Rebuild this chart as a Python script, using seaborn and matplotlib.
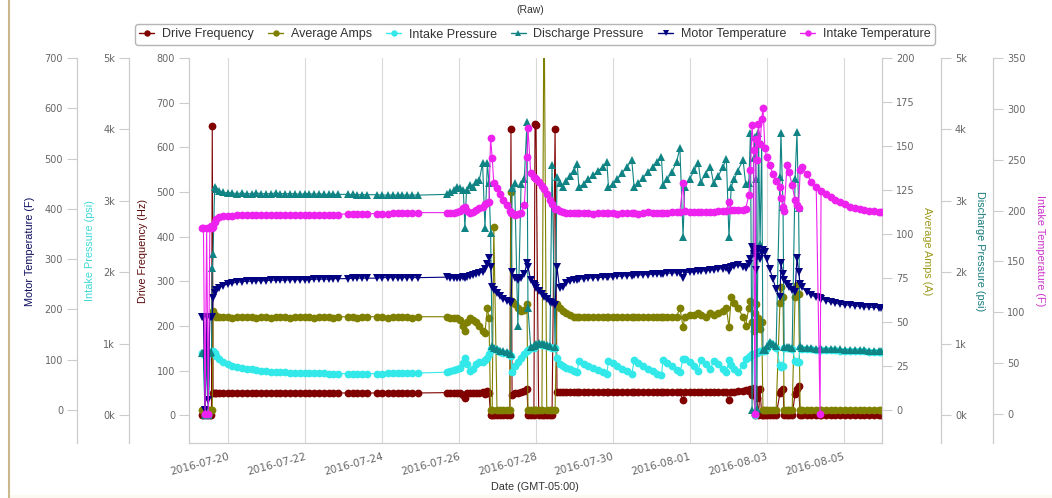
import matplotlib
matplotlib.use("Agg")
import matplotlib.pyplot as plt
import matplotlib.ticker as mticker
from matplotlib.lines import Line2D
from matplotlib.patches import Rectangle
import pandas as pd
import seaborn as sns

sns.set_theme(style="white")
plt.rcParams["font.family"] = ["DejaVu Sans"]

# Sample times, hours after 2016-07-19 00:00 (GMT-05:00)
hours = [
    8, 9, 10, 11, 12, 13, 14,
    14.5, 15, 16, 17, 19, 21, 24, 27, 30, 33, 36, 39, 42, 45, 48, 51, 54, 57, 60, 63, 66, 69, 72, 75, 78, 81,
    84, 87, 90, 93, 99, 102, 105, 108, 111, 117, 120, 124, 127, 130, 133, 136, 139, 143, 161,
    163, 165, 167, 169, 171, 172, 173, 175, 177, 179, 181, 183, 184.5, 186, 187,
    188, 189, 190, 192, 194, 196, 198, 200, 200.7,
    201.4, 203, 205, 207, 209, 210.7,
    211.3, 213, 215, 215.7, 216.3, 218, 220, 221.3, 223, 225, 226.3, 228.2,
    229.4, 231, 233, 235, 237.5, 240, 242, 243, 246, 249, 252, 255, 258, 260.5, 261.5, 264, 267, 270, 273, 276,
    277.5, 280, 283, 286, 289, 292, 294.5, 295.5, 298, 301, 304, 306, 308, 309, 312, 315, 317.5, 319, 322, 325,
    327, 330, 333, 335, 336.6, 338, 340, 342, 345.4, 347,
    349, 350, 351, 352, 352.8, 353.5, 354, 355, 356, 357, 357.8,
    359, 360, 362, 364, 366, 368.4, 369, 370.3, 371, 372.8, 374, 376, 377.8, 379, 380, 381, 382, 385, 388, 391,
    393.4, 394, 397, 400, 403, 406, 409, 412, 415, 418, 421, 424, 427, 430, 431.5,
]

drive_freq = [
    0, 0, 0, 0, 0, 0, 0,
    648, 51, 50, 50, 50, 51, 50, 50, 50, 50, 50, 50, 50, 51, 50, 50, 50, 50, 50, 50, 50, 50, 50, 50, 50, 50,
    50, 50, 50, 50, 50, 50, 50, 50, 50, 50, 50, 50, 50, 50, 50, 50, 50, 50, 51,
    51, 51, 51, 51, 45, 38, 50, 51, 51, 51, 50, 52, 48, 55, 50,
    0, 0, 0, 0, 0, 0, 0, 0, 641,
    45, 49, 50, 52, 55, 60,
    0, 0, 0, 652, 650, 0, 0, 0, 0, 0, 0, 641,
    52, 52, 52, 52, 52, 52, 52, 52, 52, 52, 52, 52, 52, 52, 52, 52, 52, 52, 52, 52,
    52, 52, 52, 52, 52, 52, 52, 52, 52, 52, 52, 52, 34, 52, 52, 52, 52, 52, 52, 52,
    52, 52, 52, 52, 34, 52, 53, 54, 55, 56,
    55, 60, 45, 62, 0, 50, 38, 0, 58, 0, 0,
    0, 0, 0, 0, 0, 50, 55, 60, 0, 0, 0, 0, 48, 58, 66, 0, 0, 0, 0, 0,
    0, 0, 0, 0, 0, 0, 0, 0, 0, 0, 0, 0, 0, 0, 0,
]

avg_amps = [
    0, 0, 0, 0, 0, 0, 0,
    0, 56, 54, 53, 53, 53, 53, 52, 53, 53, 53, 53, 52, 53, 53, 52, 53, 53, 53, 52, 53, 53, 53, 53, 52, 53,
    53, 53, 52, 53, 53, 53, 52, 53, 53, 53, 53, 52, 53, 53, 53, 53, 52, 53, 53,
    52, 52, 52, 51, 48, 45, 50, 52, 51, 50, 48, 45, 44, 58, 52,
    0, 0, 104, 0, 0, 0, 0, 0, 124,
    62, 60, 58, 56, 57, 60,
    0, 0, 0, 0, 0, 0, 0, 240, 0, 0, 0, 0,
    60, 58, 56, 55, 54, 53, 53, 53, 53, 53, 53, 53, 53, 53, 53, 53, 53, 53, 53, 53,
    53, 53, 53, 53, 53, 53, 53, 53, 53, 53, 53, 58, 47, 53, 54, 54, 55, 54, 53, 55,
    54, 55, 56, 58, 47, 64, 61, 58, 53, 48,
    58, 62, 50, 45, 55, 60, 48, 52, 46, 50, 0,
    0, 0, 0, 0, 0, 61, 70, 64, 0, 0, 0, 0, 64, 71, 66, 0, 0, 0, 0, 0,
    0, 0, 0, 0, 0, 0, 0, 0, 0, 0, 0, 0, 0, 0, 0,
]

intake_press = [
    870, 860, 0, 870, 0, 870, 880,
    880, 900, 870, 830, 780, 745, 710, 690, 672, 660, 648, 638, 628, 620, 614, 608, 603, 599, 596, 593, 590, 588, 586, 585, 584, 583,
    582, 581, 580, 580, 580, 580, 580, 580, 580, 581, 581, 582, 582, 583, 584, 585, 586, 588, 600,
    620, 630, 640, 660, 730, 800, 720, 610, 640, 720, 745, 740, 770, 800, 850,
    930, 940, 925, 905, 885, 875, 865, 845, 830,
    600, 680, 740, 800, 860, 900,
    910, 935, 945, 965, 975, 990, 985, 975, 960, 950, 940, 935,
    800, 720, 690, 660, 640, 620, 600, 760, 720, 690, 660, 630, 600, 580, 760, 730, 690, 650, 610, 570,
    770, 730, 690, 650, 610, 580, 560, 770, 730, 680, 630, 600, 780, 790, 740, 680, 620, 770, 710, 640,
    760, 720, 650, 600, 770, 700, 640, 600, 700, 790,
    810, 830, 850, 860, 0, 870, 870, 880, 890, 890, 890,
    895, 945, 1005, 985, 945, 700, 672, 690, 935, 940, 935, 930, 760, 742, 745, 945, 930, 925, 920, 915,
    915, 913, 910, 907, 905, 903, 900, 897, 895, 893, 890, 888, 885, 883, 882,
]

discharge_press = [
    875, 865, 0, 875, 0, 875, 885,
    2060, 2250, 3200, 3170, 3140, 3120, 3110, 3110, 3100, 3110, 3100, 3100, 3110, 3100, 3100, 3100, 3110, 3100, 3100, 3100, 3100, 3090, 3100, 3100, 3090, 3100,
    3090, 3090, 3090, 3090, 3090, 3090, 3085, 3085, 3085, 3085, 3080, 3080, 3080, 3080, 3080, 3080, 3080, 3080, 3090,
    3120, 3150, 3200, 3180, 3150, 2620, 3150, 3220, 3200, 3260, 3290, 3530, 2620, 3530, 3250,
    2550, 960, 940, 920, 900, 890, 880, 860, 850,
    3180, 3250, 1250, 3230, 3300, 4100,
    1500, 950, 960, 980, 990, 1005, 1000, 990, 975, 965, 3500, 950,
    3330, 3250, 3200, 3280, 3350, 3420, 3520, 3200, 3230, 3300, 3360, 3420, 3480, 3540, 3190, 3230, 3300, 3390, 3470, 3570,
    3190, 3250, 3320, 3400, 3470, 3540, 3610, 3220, 3300, 3400, 3550, 3740, 2490, 3200, 3300, 3430, 3530, 3260, 3380, 3480,
    3250, 3350, 3480, 3580, 2490, 3200, 3300, 3420, 3570, 3240,
    3250, 3950, 70, 3600, 3900, 3300, 80, 3950, 2400, 3800, 910,
    910, 960, 1020, 1000, 960, 3330, 3950, 2910, 950, 955, 950, 945, 3300, 3960, 2900, 960, 945, 940, 935, 930,
    930, 928, 925, 922, 920, 918, 915, 912, 910, 908, 905, 903, 900, 898, 897,
]

motor_temp = [
    185, 185, 0, 185, 20, 185, 185,
    185, 223, 232, 238, 243, 247, 250, 252, 254, 255, 256, 256, 257, 257, 257, 258, 258, 258, 258, 259, 259, 259, 259, 259, 260, 260,
    260, 260, 261, 261, 261, 262, 262, 262, 262, 262, 263, 263, 263, 263, 263, 263, 263, 263, 264,
    262, 263, 262, 263, 264, 262, 264, 266, 268, 270, 272, 275, 280, 290, 302,
    284, 245, 238, 232, 226, 221, 217, 214, 213,
    274, 262, 258, 262, 270, 292,
    285, 258, 250, 246, 243, 236, 230, 225, 220, 215, 212, 209,
    284, 242, 245, 252, 256, 258, 259, 260, 261, 262, 263, 263, 264, 264, 264, 265, 266, 266, 267, 267,
    268, 268, 269, 269, 270, 270, 271, 271, 272, 272, 273, 273, 262, 273, 274, 275, 276, 276, 277, 278,
    279, 280, 281, 282, 276, 284, 286, 288, 285, 283,
    290, 300, 324, 310, 318, 278, 305, 320, 300, 312, 318,
    315, 300, 280, 260, 240, 225, 292, 270, 258, 250, 245, 238, 235, 302, 275, 250, 244, 235, 228, 224,
    222, 221, 217, 214, 212, 210, 209, 208, 207, 206, 205, 204, 204, 203, 203,
]

intake_temp = [
    183, 183, 0, 183, 0, 183, 185,
    183, 184, 189, 192, 194, 195, 195, 195, 196, 196, 196, 196, 196, 196, 196, 196, 196, 196, 196, 196, 196, 196, 196, 196, 196, 196,
    196, 196, 196, 196, 197, 197, 197, 197, 197, 197, 197, 197, 198, 198, 198, 198, 198, 198, 198,
    198, 198, 199, 200, 203, 204, 200, 198, 199, 201, 203, 204, 206, 207, 208,
    271, 252, 227, 222, 216, 210, 205, 200, 198,
    198, 196, 197, 198, 205, 253,
    281, 237, 233, 232, 231, 228, 224, 221, 216, 210, 206, 202,
    202, 200, 199, 198, 198, 198, 198, 198, 198, 198, 197, 198, 198, 198, 198, 198, 197, 198, 198, 198,
    198, 197, 198, 199, 198, 198, 198, 198, 198, 199, 199, 199, 227, 200, 199, 199, 199, 199, 199, 199,
    199, 200, 200, 200, 208, 201, 201, 201, 201, 202,
    215, 240, 284, 260, 0, 270, 250, 285, 265, 290, 301,
    262, 253, 245, 236, 229, 223, 212, 204, 200, 245, 238, 225, 210, 205, 203, 240, 243, 236, 228, 223,
    0, 219, 216, 213, 210, 208, 206, 204, 203, 202, 201, 200, 200, 199, 199,
]

date_ticks = ["2016-07-20", "2016-07-22", "2016-07-24", "2016-07-26", "2016-07-28",
              "2016-07-30", "2016-08-01", "2016-08-03", "2016-08-05"]
freq_ticks = [0, 100, 200, 300, 400, 500, 600, 700, 800]
amps_ticks = [0, 25, 50, 75, 100, 125, 150, 175, 200]
press_ticks = [0, 1000, 2000, 3000, 4000, 5000]
motor_ticks = [0, 100, 200, 300, 400, 500, 600, 700]
itemp_ticks = [0, 50, 100, 150, 200, 250, 300, 350]

start = pd.Timestamp("2016-07-19 00:00")
data = pd.DataFrame({
    "Date": start + pd.to_timedelta(hours, unit="h"),
    "Drive Frequency": drive_freq,
    "Average Amps": avg_amps,
    "Intake Pressure": intake_press,
    "Discharge Pressure": discharge_press,
    "Motor Temperature": motor_temp,
    "Intake Temperature": intake_temp,
})

W, H = 1052, 498
fig = plt.figure(figsize=(W / 100, H / 100), dpi=100)
fig.patch.set_facecolor("white")
ax = fig.add_axes([189 / W, 1 - 443 / H, 693 / W, 385 / H])

GRID = "#d9d9d9"
SPINE = "#cccccc"
TICKTXT = "#666666"
LABEL_FONT = ["Liberation Sans", "DejaVu Sans"]
MS = 5.6

# name, line colour, axis-title colour, marker, y-limits, ticks, side, spine offset, title, title x (px)
axes_spec = [
    ("Drive Frequency", "#800000", "#5c0a0a", "o", (-62, 800), freq_ticks, "left", 0.0,
     "Drive Frequency (Hz)", 143),
    ("Average Amps", "#808000", "#9c9a1c", "o", (-18.75, 200), amps_ticks, "right", 1.0,
     "Average Amps (A)", 927),
    ("Intake Pressure", "#33e8e8", "#3fd8d8", "o", (-392, 5000), press_ticks, "left", -60 / 693,
     "Intake Pressure (psi)", 90),
    ("Discharge Pressure", "#108484", "#167b7b", "^", (-392, 5000), press_ticks, "right", 752 / 693,
     "Discharge Pressure (psi)", 980),
    ("Motor Temperature", "#000080", "#0c0c5c", "v", (-66, 700), motor_ticks, "left", -112 / 693,
     "Motor Temperature (F)", 30),
    ("Intake Temperature", "#ee22ee", "#cc33cc", "o", (-28.5, 350), itemp_ticks, "right", 804 / 693,
     "Intake Temperature (F)", 1040),
]

kfmt = mticker.FuncFormatter(lambda v, p: f"{v / 1000:.0f}k")

handles = []
for i, (name, color, tcolor, marker, ylim, ticks, side, offset, title, tx) in enumerate(axes_spec):
    a = ax if i == 0 else ax.twinx()
    sns.lineplot(data=data, x="Date", y=name, ax=a, color=color, marker=marker,
                 markersize=MS, markeredgewidth=0, linewidth=0.8,
                 estimator=None, sort=False, legend=False)
    a.set_ylim(*ylim)
    a.set_yticks(ticks)
    if name.endswith("Pressure"):
        a.yaxis.set_major_formatter(kfmt)
    for s in a.spines.values():
        s.set_visible(False)
    a.spines[side].set_visible(True)
    a.spines[side].set_position(("axes", offset))
    a.spines[side].set_color(SPINE)
    a.spines[side].set_linewidth(0.9)
    a.yaxis.set_ticks_position(side)
    a.tick_params(axis="y", which="major", length=7, width=0.8, color=SPINE,
                  labelcolor=TICKTXT, labelsize=7, pad=3)
    a.set_ylabel("")
    a.set_xlabel("")
    fig.text(tx / W, 1 - 251 / H, title, rotation=90 if side == "left" else 270,
             ha="center", va="center", color=tcolor, fontsize=7.8, family=LABEL_FONT)
    handles.append(Line2D([], [], color=color, marker=marker, markersize=4.6,
                          markeredgewidth=0, linewidth=1.0, label=name))

ax.spines["bottom"].set_visible(True)
ax.spines["bottom"].set_color(SPINE)
ax.spines["bottom"].set_linewidth(0.9)
ax.set_xlim(start, start + pd.Timedelta(days=18))
ax.set_xticks(pd.to_datetime(date_ticks))
ax.set_xticklabels(date_ticks, rotation=15, ha="right", va="top", rotation_mode="anchor")
ax.tick_params(axis="x", length=0, pad=6, labelsize=7.6, labelcolor=TICKTXT)
ax.grid(axis="x", color=GRID, linewidth=0.8)
ax.grid(axis="y", visible=False)
ax.set_axisbelow(True)

fig.legend(handles=handles, loc="center", bbox_to_anchor=(535 / W, 1 - 34.5 / H), ncol=6,
           frameon=True, fancybox=True, edgecolor="#b5b5b5", framealpha=1,
           prop={"family": LABEL_FONT, "size": 9}, labelcolor="#333333",
           handlelength=1.2, handletextpad=0.6, columnspacing=1.15, borderpad=0.35)

fig.text(530 / W, 1 - 10 / H, "(Raw)", ha="center", va="center", fontsize=7.5,
         family=LABEL_FONT, color="#333333")
fig.text(535 / W, 1 - 487 / H, "Date (GMT-05:00)", ha="center", va="center", fontsize=7.8,
         family=LABEL_FONT, color="#333333")

# page edge decorations
fig.add_artist(Line2D([9 / W, 9 / W], [0, 1], transform=fig.transFigure,
                      color="#c9b98c", linewidth=1.5))
fig.add_artist(Rectangle((10 / W, 0), 1, 3 / H, transform=fig.transFigure,
                         facecolor="#fbf9f1", edgecolor="none"))

fig.savefig("out.png", dpi=100)
